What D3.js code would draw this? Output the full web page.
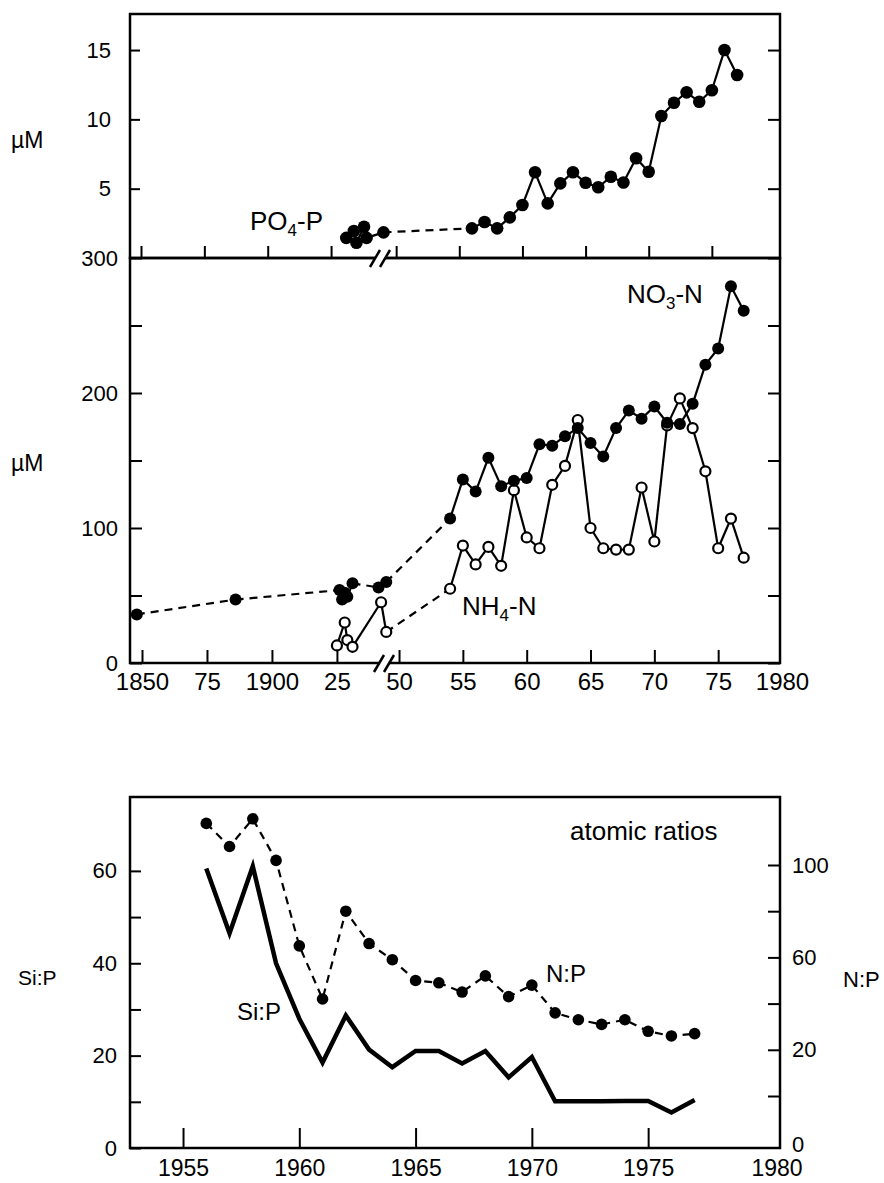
<!DOCTYPE html>
<html>
<head>
<meta charset="utf-8">
<script src="https://cdn.jsdelivr.net/npm/d3@7"></script>
<style>
body { margin: 0; background: #fff; }
svg { display: block; }
</style>
</head>
<body>
<svg id="chart" width="884" height="1183"></svg>
<script>
// PO4-P (top panel)
var po4Years = [1931, 1934, 1935, 1938, 1939, 1949, 1956, 1957, 1958, 1959, 1960, 1961, 1962, 1963, 1964, 1965, 1966, 1967, 1968, 1969, 1970, 1971, 1972, 1973, 1974, 1975, 1976, 1977];
var po4Values = [1.45, 1.95, 1.1, 2.25, 1.45, 1.85, 2.14, 2.6, 2.14, 2.93, 3.82, 6.18, 3.94, 5.38, 6.18, 5.43, 5.1, 5.86, 5.45, 7.19, 6.22, 10.24, 11.2, 11.95, 11.27, 12.1, 15.0, 13.2];
var po4Dashed = [1949];

// NO3-N (middle panel, filled)
var no3Years = [1848, 1886, 1926, 1927, 1928, 1929, 1931, 1941, 1949, 1954, 1955, 1956, 1957, 1958, 1959, 1960, 1961, 1962, 1963, 1964, 1965, 1966, 1967, 1968, 1969, 1970, 1971, 1972, 1973, 1974, 1975, 1976, 1977];
var no3Values = [36, 47, 54, 47, 52, 49, 59, 56, 60, 107, 136, 127, 152, 131, 135, 137, 162, 161, 168, 174, 163, 153, 174, 187, 181, 190, 178, 177, 192, 221, 233, 279, 261];
var no3Dashed = [1848, 1886, 1931, 1949];

// NH4-N (middle panel, open)
var nh4Years = [1925, 1928, 1929, 1931, 1942, 1949, 1954, 1955, 1956, 1957, 1958, 1959, 1960, 1961, 1962, 1963, 1964, 1965, 1966, 1967, 1968, 1969, 1970, 1971, 1972, 1973, 1974, 1975, 1976, 1977];
var nh4Values = [13, 30, 17, 12, 45, 23, 55, 87, 73, 86, 72, 128, 93, 85, 132, 146, 180, 100, 85, 84, 84, 130, 90, 176, 196, 174, 142, 85, 107, 78];
var nh4Dashed = [1949];

// atomic ratios (bottom panel)
var ratioYears = [1956, 1957, 1958, 1959, 1960, 1961, 1962, 1963, 1964, 1965, 1966, 1967, 1968, 1969, 1970, 1971, 1972, 1973, 1974, 1975, 1976, 1977];
var npValues = [118, 108, 120, 102, 65, 42, 80, 66, 59, 50, 49, 45, 52, 43, 48, 36, 33, 31, 33, 28, 26, 27];
var sipValues = [60.5, 46.5, 61, 40, 28, 18.5, 28.7, 21.3, 17.5, 21, 21, 18.3, 21, 15.3, 19.7, 10.1, 10.1, 10.1, 10.2, 10.2, 7.7, 10.4];

// tick values and labels
var yearTicks = [1850, 1875, 1900, 1925, 1950, 1955, 1960, 1965, 1970, 1975, 1980];
var yearTickLabels = ["1850", "75", "1900", "25", "50", "55", "60", "65", "70", "75", "1980"];
var po4Ticks = [5, 10, 15];
var nMajor = [0, 100, 200, 300];
var nMinor = [50, 150, 250];
var ratioYearTicks = [1955, 1960, 1965, 1970, 1975];
var sipTicks = [0, 10, 20, 30, 40, 50, 60];
var sipLabels = [0, 20, 40, 60];
var npTicks = [0, 20, 40, 60, 80, 100];
var npLabels = [20, 60, 100];

var font = "'Liberation Sans', Arial, Helvetica, sans-serif";
var svg = d3.select("#chart");

var left = 130, right = 780;

//scales
var xTop = d3.scaleLinear().domain([1850, 1944.7, 1948.8, 1980]).range([141, 381, 381, 775]);
var yTop = d3.scaleLinear().domain([0, 17.6]).range([258, 14]);
var xMid = d3.scaleLinear().domain([1850, 1943.5, 1948.9, 1980]).range([142, 385, 385, 782]);
var yMid = d3.scaleLinear().domain([0, 300]).range([663, 258]);
var xBot = d3.scaleLinear().domain([1952.72, 1980.67]).range([left, right]);
var ySiP = d3.scaleLinear().domain([0, 76]).range([1148, 797]);
var yNP = d3.scaleLinear().domain([0, 100]).range([1096, 865]);

function styleAxis(g, size) {
  g.attr("font-family", font).attr("font-size", size);
  g.select(".domain").remove();
  g.selectAll(".tick line").attr("stroke", "#000").attr("stroke-width", 2);
  g.selectAll(".tick text").attr("fill", "#000");
}

function yAxis(axisFn, scale, ticks, labels, len, pad, xPos) {
  var g = svg.append("g")
    .attr("transform", "translate(" + xPos + ",0)")
    .call(axisFn(scale)
      .tickValues(ticks)
      .tickSizeInner(-len).tickSizeOuter(0).tickPadding(pad)
      .tickFormat(function(d){ return labels.indexOf(d) > -1 ? d : ""; }));
  styleAxis(g, 22);
  return g;
}

// y axes
yAxis(d3.axisLeft, yTop, po4Ticks, po4Ticks, 10, 19, left);
yAxis(d3.axisRight, yTop, po4Ticks, [], 12, 0, right);
yAxis(d3.axisLeft, yMid, nMajor.concat(nMinor), nMajor, 12, 12, left);
yAxis(d3.axisRight, yMid, nMajor.concat(nMinor), [], 12, 0, right);
yAxis(d3.axisLeft, ySiP, sipTicks, sipLabels, 11, 13, left);
yAxis(d3.axisRight, yNP, npTicks, npLabels, 12, 12, right);

// x axes
var gTopX = svg.append("g")
  .attr("transform", "translate(0," + yTop(0) + ")")
  .call(d3.axisBottom(xTop).tickValues(yearTicks.slice(0, -1))
    .tickSizeInner(-12).tickSizeOuter(0).tickFormat(""));
styleAxis(gTopX, 22);

var gMidX = svg.append("g")
  .attr("transform", "translate(0," + yMid(0) + ")")
  .call(d3.axisBottom(xMid).tickValues(yearTicks)
    .tickSizeInner(-13).tickSizeOuter(0).tickPadding(10)
    .tickFormat(function(d, i){ return yearTickLabels[i]; }));
styleAxis(gMidX, 24);
gMidX.selectAll(".tick").filter(function(d){ return d == 1980; }).select("line").remove();

var gBotX = svg.append("g")
  .attr("transform", "translate(0," + ySiP(0) + ")")
  .call(d3.axisBottom(xBot).tickValues(ratioYearTicks)
    .tickSizeInner(-20).tickSizeOuter(0).tickPadding(12)
    .tickFormat(d3.format("d")));
styleAxis(gBotX, 23);

// end labels that sit at the frame corners
svg.append("text").attr("x", right - 3).attr("y", ySiP(0) + 12).attr("dy", "0.71em")
  .attr("text-anchor", "middle").attr("font-family", font).attr("font-size", 23).text("1980");
svg.append("text").attr("x", right + 12).attr("y", ySiP(0) - 3).attr("dy", "0.32em")
  .attr("font-family", font).attr("font-size", 22).text("0");

// frames
[[yTop.range()[1], yTop.range()[0]], [yMid.range()[1], yMid.range()[0]], [ySiP.range()[1], ySiP.range()[0]]]
  .forEach(function(p){
    svg.append("rect").attr("x", left).attr("y", p[0])
      .attr("width", right - left).attr("height", p[1] - p[0])
      .attr("fill", "none").attr("stroke", "#000").attr("stroke-width", 2.5);
  });

// axis break marks
function axisBreak(xc, yc) {
  svg.append("rect").attr("x", xc - 6).attr("y", yc - 3).attr("width", 10).attr("height", 6).attr("fill", "#fff");
  [-6, 4].forEach(function(o){
    svg.append("line")
      .attr("x1", o + xc - 5).attr("y1", yc + 9)
      .attr("x2", o + xc + 5).attr("y2", yc - 8)
      .attr("stroke", "#000").attr("stroke-width", 2.5);
  });
}
axisBreak(xTop(1946), yTop(0));
axisBreak(xMid(1946), yMid(0));

// series: lines (dashed across gaps) + markers
function drawSeries(x, y, years, values, dashed, r, filled) {
  var g = svg.append("g");
  for (var i = 0; i < years.length - 1; i++) {
    g.append("line")
      .attr("x1", x(years[i])).attr("y1", y(values[i]))
      .attr("x2", x(years[i + 1])).attr("y2", y(values[i + 1]))
      .attr("stroke", "#000").attr("stroke-width", 2.2)
      .attr("stroke-dasharray", dashed.indexOf(years[i]) > -1 ? "8,6" : null);
  }
  g.selectAll("circle")
    .data(d3.zip(years, values))
    .enter()
    .append("circle")
    .attr("cx", function(d){ return x(d[0]); })
    .attr("cy", function(d){ return y(d[1]); })
    .attr("r", r)
    .attr("fill", filled ? "#000" : "#fff")
    .attr("stroke", "#000")
    .attr("stroke-width", filled ? 0 : 2.2);
}

drawSeries(xTop, yTop, po4Years, po4Values, po4Dashed, 6.3, true);
drawSeries(xMid, yMid, nh4Years, nh4Values, nh4Dashed, 5, false);
drawSeries(xMid, yMid, no3Years, no3Values, no3Dashed, 6, true);

// Si:P thick line
svg.append("path")
  .datum(d3.zip(ratioYears, sipValues))
  .attr("d", d3.line().x(function(d){ return xBot(d[0]); }).y(function(d){ return ySiP(d[1]); }))
  .attr("fill", "none").attr("stroke", "#000").attr("stroke-width", 4.5).attr("stroke-linejoin", "miter");

// N:P dashed with dots
svg.append("path")
  .datum(d3.zip(ratioYears, npValues))
  .attr("d", d3.line().x(function(d){ return xBot(d[0]); }).y(function(d){ return yNP(d[1]); }))
  .attr("fill", "none").attr("stroke", "#000").attr("stroke-width", 2.2).attr("stroke-dasharray", "8,6");
svg.append("g").selectAll("circle")
  .data(d3.zip(ratioYears, npValues))
  .enter().append("circle")
  .attr("cx", function(d){ return xBot(d[0]); })
  .attr("cy", function(d){ return yNP(d[1]); })
  .attr("r", 5.8).attr("fill", "#000");

// labels
function label(x, y, size, parts) {
  var t = svg.append("text").attr("x", x).attr("y", y)
    .attr("font-family", font).attr("font-size", size).attr("fill", "#000");
  parts.forEach(function(p){
    if (p.sub) {
      t.append("tspan").attr("font-size", size * 0.65).attr("dy", size * 0.22).text(p.text);
    } else {
      t.append("tspan").attr("dy", p.after ? -size * 0.22 : 0).text(p.text);
    }
  });
  return t;
}

label(250, 230, 26, [{text: "PO"}, {text: "4", sub: true}, {text: "-P", after: true}]);
label(627, 303, 26, [{text: "NO"}, {text: "3", sub: true}, {text: "-N", after: true}]);
label(462, 615, 26, [{text: "NH"}, {text: "4", sub: true}, {text: "-N", after: true}]);
label(11, 148, 23, [{text: "\u00b5M"}]);
label(11, 471, 23, [{text: "\u00b5M"}]);
label(570, 840, 26, [{text: "atomic ratios"}]);
label(546, 982, 24, [{text: "N:P"}]);
label(237, 1020, 24, [{text: "Si:P"}]);
label(18, 985, 21, [{text: "Si:P"}]);
label(843, 987, 22, [{text: "N:P"}]);
</script>
</body>
</html>
